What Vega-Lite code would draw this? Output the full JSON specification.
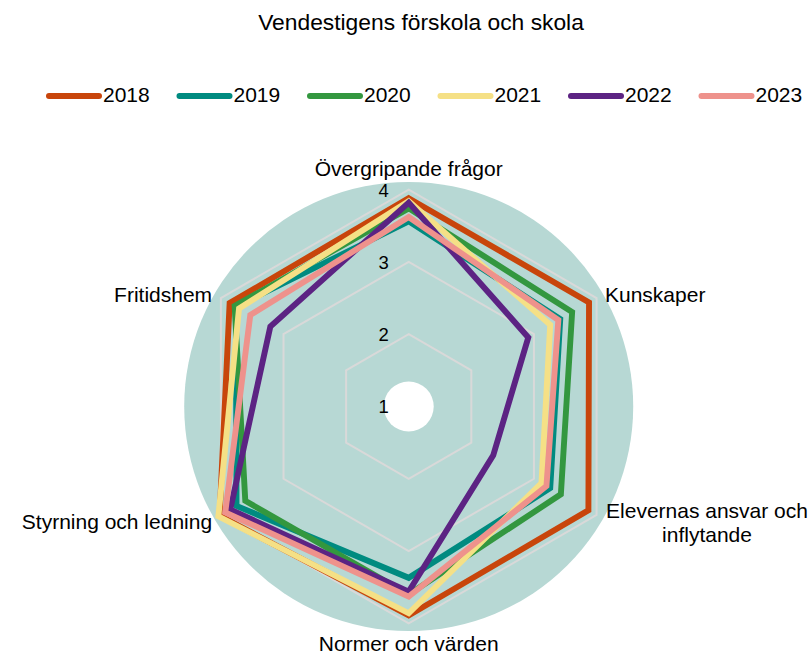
{
  "$schema": "https://vega.github.io/schema/vega-lite/v6.json",
  "width": 812,
  "height": 657,
  "autosize": {"type": "none"},
  "padding": 0,
  "background": "white",
  "config": {"view": {"stroke": null}, "font": "Liberation Sans"},
  "title": {
    "text": "Vendestigens förskola och skola",
    "font": "Liberation Sans",
    "fontSize": 22.8,
    "fontWeight": "normal",
    "color": "#000000",
    "anchor": "middle",
    "dx": 15,
    "offset": -35
  },
  "datasets": {
    "scores": [
      {"year": "2018", "axis": "Övergripande frågor", "i": 0, "v": 3.88},
      {"year": "2018", "axis": "Kunskaper", "i": 1, "v": 3.88},
      {"year": "2018", "axis": "Elevernas ansvar och inflytande", "i": 2, "v": 3.87},
      {"year": "2018", "axis": "Normer och värden", "i": 3, "v": 3.89},
      {"year": "2018", "axis": "Styrning och ledning", "i": 4, "v": 4.02},
      {"year": "2018", "axis": "Fritidshem", "i": 5, "v": 3.86},
      {"year": "2019", "axis": "Övergripande frågor", "i": 0, "v": 3.56},
      {"year": "2019", "axis": "Kunskaper", "i": 1, "v": 3.42},
      {"year": "2019", "axis": "Elevernas ansvar och inflytande", "i": 2, "v": 3.26},
      {"year": "2019", "axis": "Normer och värden", "i": 3, "v": 3.37},
      {"year": "2019", "axis": "Styrning och ledning", "i": 4, "v": 3.75},
      {"year": "2019", "axis": "Fritidshem", "i": 5, "v": 3.76},
      {"year": "2020", "axis": "Övergripande frågor", "i": 0, "v": 3.74},
      {"year": "2020", "axis": "Kunskaper", "i": 1, "v": 3.61},
      {"year": "2020", "axis": "Elevernas ansvar och inflytande", "i": 2, "v": 3.43},
      {"year": "2020", "axis": "Normer och värden", "i": 3, "v": 3.6},
      {"year": "2020", "axis": "Styrning och ledning", "i": 4, "v": 3.61},
      {"year": "2020", "axis": "Fritidshem", "i": 5, "v": 3.78},
      {"year": "2021", "axis": "Övergripande frågor", "i": 0, "v": 3.84},
      {"year": "2021", "axis": "Kunskaper", "i": 1, "v": 3.26},
      {"year": "2021", "axis": "Elevernas ansvar och inflytande", "i": 2, "v": 3.12},
      {"year": "2021", "axis": "Normer och värden", "i": 3, "v": 3.86},
      {"year": "2021", "axis": "Styrning och ledning", "i": 4, "v": 4.04},
      {"year": "2021", "axis": "Fritidshem", "i": 5, "v": 3.71},
      {"year": "2022", "axis": "Övergripande frågor", "i": 0, "v": 3.82},
      {"year": "2022", "axis": "Kunskaper", "i": 1, "v": 2.91},
      {"year": "2022", "axis": "Elevernas ansvar och inflytande", "i": 2, "v": 2.35},
      {"year": "2022", "axis": "Normer och värden", "i": 3, "v": 3.56},
      {"year": "2022", "axis": "Styrning och ledning", "i": 4, "v": 3.85},
      {"year": "2022", "axis": "Fritidshem", "i": 5, "v": 3.21},
      {"year": "2023", "axis": "Övergripande frågor", "i": 0, "v": 3.62},
      {"year": "2023", "axis": "Kunskaper", "i": 1, "v": 3.39},
      {"year": "2023", "axis": "Elevernas ansvar och inflytande", "i": 2, "v": 3.2},
      {"year": "2023", "axis": "Normer och värden", "i": 3, "v": 3.63},
      {"year": "2023", "axis": "Styrning och ledning", "i": 4, "v": 3.93},
      {"year": "2023", "axis": "Fritidshem", "i": 5, "v": 3.53}
    ],
    "axes": [
      {"axis": "Övergripande frågor", "i": 0},
      {"axis": "Kunskaper", "i": 1},
      {"axis": "Elevernas ansvar och\ninflytande", "i": 2},
      {"axis": "Normer och värden", "i": 3},
      {"axis": "Styrning och ledning", "i": 4},
      {"axis": "Fritidshem", "i": 5}
    ],
    "grid": [
      {"level": 2, "i": 0}, {"level": 2, "i": 1}, {"level": 2, "i": 2},
      {"level": 2, "i": 3}, {"level": 2, "i": 4}, {"level": 2, "i": 5},
      {"level": 3, "i": 0}, {"level": 3, "i": 1}, {"level": 3, "i": 2},
      {"level": 3, "i": 3}, {"level": 3, "i": 4}, {"level": 3, "i": 5},
      {"level": 4, "i": 0}, {"level": 4, "i": 1}, {"level": 4, "i": 2},
      {"level": 4, "i": 3}, {"level": 4, "i": 4}, {"level": 4, "i": 5}
    ],
    "ticks": [{"t": 1}, {"t": 2}, {"t": 3}, {"t": 4}],
    "origin": [{"cx": 0, "cy": 0}]
  },
  "layer": [
    {
      "data": {"name": "origin"},
      "mark": {"type": "circle", "size": 201601, "color": "#b7d8d4", "opacity": 1},
      "encoding": {
        "x": {"field": "cx", "type": "quantitative", "scale": {"domain": [-5.653, 5.578], "nice": false, "zero": false}, "axis": null},
        "y": {"field": "cy", "type": "quantitative", "scale": {"domain": [-3.465, 5.622], "nice": false, "zero": false}, "axis": null}
      }
    },
    {
      "data": {"name": "origin"},
      "mark": {"type": "circle", "size": 2500, "color": "#ffffff", "opacity": 1},
      "encoding": {
        "x": {"field": "cx", "type": "quantitative"},
        "y": {"field": "cy", "type": "quantitative"}
      }
    },
    {
      "data": {"name": "grid"},
      "transform": [
        {"calculate": "(datum.level - 1) * sin(datum.i * PI / 3)", "as": "gx"},
        {"calculate": "(datum.level - 1) * cos(datum.i * PI / 3)", "as": "gy"}
      ],
      "mark": {"type": "line", "interpolate": "linear-closed", "stroke": "#d9d9d9", "strokeWidth": 2},
      "encoding": {
        "x": {"field": "gx", "type": "quantitative"},
        "y": {"field": "gy", "type": "quantitative"},
        "detail": {"field": "level", "type": "nominal"},
        "order": {"field": "i", "type": "quantitative"}
      }
    },
    {
      "data": {"name": "ticks"},
      "transform": [
        {"calculate": "0", "as": "tx"},
        {"calculate": "datum.t - 1", "as": "ty"}
      ],
      "mark": {"type": "text", "align": "right", "baseline": "middle", "dx": -20, "dy": 1, "fontSize": 18.5, "font": "Liberation Sans", "color": "#000000"},
      "encoding": {
        "x": {"field": "tx", "type": "quantitative"},
        "y": {"field": "ty", "type": "quantitative"},
        "text": {"field": "t", "type": "nominal"}
      }
    },
    {
      "data": {"name": "scores"},
      "transform": [
        {"calculate": "(datum.v - 1) * sin(datum.i * PI / 3)", "as": "px"},
        {"calculate": "(datum.v - 1) * cos(datum.i * PI / 3)", "as": "py"}
      ],
      "mark": {"type": "line", "interpolate": "linear-closed", "strokeWidth": 5.9, "strokeJoin": "miter"},
      "encoding": {
        "x": {"field": "px", "type": "quantitative"},
        "y": {"field": "py", "type": "quantitative"},
        "order": {"field": "i", "type": "quantitative"},
        "color": {
          "field": "year",
          "type": "nominal",
          "scale": {
            "domain": ["2018", "2019", "2020", "2021", "2022", "2023"],
            "range": ["#c8450b", "#008b80", "#33973f", "#f5e086", "#5c2383", "#ee928c"]
          },
          "legend": {
            "orient": "none",
            "legendX": 46,
            "legendY": 68,
            "direction": "horizontal",
            "columns": 6,
            "title": null,
            "padding": 0,
            "symbolType": "stroke",
            "symbolSize": 2500,
            "symbolStrokeWidth": 6,
            "symbolOpacity": 1,
            "labelFont": "Liberation Sans",
            "labelFontSize": 21,
            "labelColor": "#000000",
            "labelOffset": 1,
            "columnPadding": 17.5,
            "encode": {"symbols": {"update": {"strokeCap": {"value": "round"}}}}
          }
        }
      }
    },
    {
      "data": {"name": "axes"},
      "transform": [
        {"filter": "datum.i == 0 || datum.i == 3"},
        {"calculate": "0", "as": "lx"},
        {"calculate": "datum.i == 0 ? 3.27 : -3.30", "as": "ly"}
      ],
      "mark": {"type": "text", "align": "center", "baseline": "middle", "fontSize": 21, "font": "Liberation Sans", "color": "#000000"},
      "encoding": {
        "x": {"field": "lx", "type": "quantitative"},
        "y": {"field": "ly", "type": "quantitative"},
        "text": {"field": "axis", "type": "nominal"}
      }
    },
    {
      "data": {"name": "axes"},
      "transform": [
        {"filter": "datum.i == 1"},
        {"calculate": "3.135 * sin(datum.i * PI / 3)", "as": "lx"},
        {"calculate": "3.135 * cos(datum.i * PI / 3)", "as": "ly"}
      ],
      "mark": {"type": "text", "align": "left", "baseline": "middle", "dy": 3, "fontSize": 21, "font": "Liberation Sans", "color": "#000000"},
      "encoding": {
        "x": {"field": "lx", "type": "quantitative"},
        "y": {"field": "ly", "type": "quantitative"},
        "text": {"field": "axis", "type": "nominal"}
      }
    },
    {
      "data": {"name": "axes"},
      "transform": [
        {"filter": "datum.i == 2"},
        {"calculate": "3.135 * sin(datum.i * PI / 3)", "as": "lx"},
        {"calculate": "3.135 * cos(datum.i * PI / 3)", "as": "ly"}
      ],
      "mark": {"type": "text", "align": "center", "baseline": "middle", "dx": 102, "dy": -8, "lineBreak": "\n", "lineHeight": 24, "fontSize": 21, "font": "Liberation Sans", "color": "#000000"},
      "encoding": {
        "x": {"field": "lx", "type": "quantitative"},
        "y": {"field": "ly", "type": "quantitative"},
        "text": {"field": "axis", "type": "nominal"}
      }
    },
    {
      "data": {"name": "axes"},
      "transform": [
        {"filter": "datum.i == 4 || datum.i == 5"},
        {"calculate": "3.14 * sin(datum.i * PI / 3)", "as": "lx"},
        {"calculate": "3.14 * cos(datum.i * PI / 3)", "as": "ly"}
      ],
      "mark": {"type": "text", "align": "right", "baseline": "middle", "dy": 3, "fontSize": 21, "font": "Liberation Sans", "color": "#000000"},
      "encoding": {
        "x": {"field": "lx", "type": "quantitative"},
        "y": {"field": "ly", "type": "quantitative"},
        "text": {"field": "axis", "type": "nominal"}
      }
    }
  ]
}
